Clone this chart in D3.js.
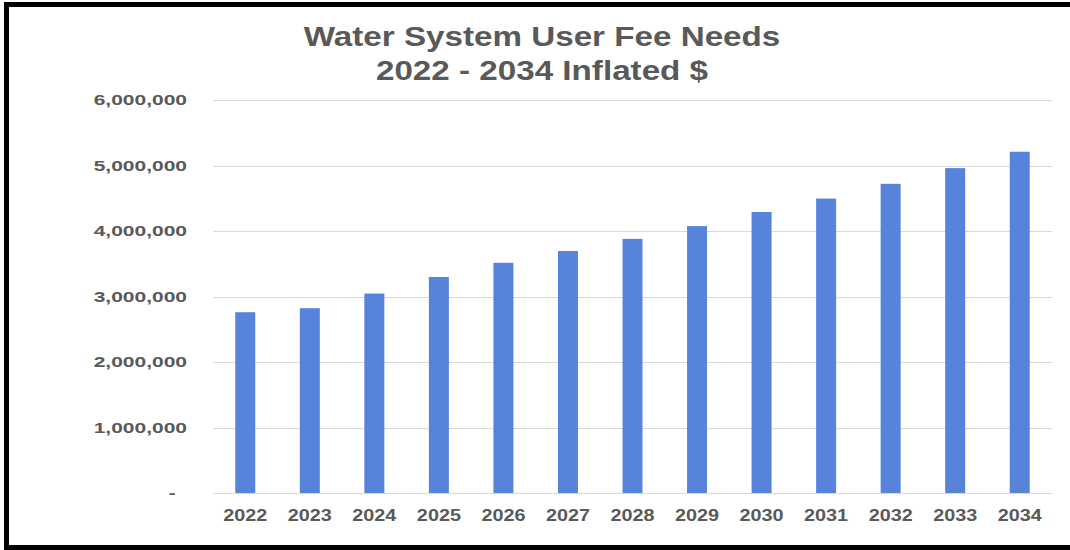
<!DOCTYPE html>
<html>
<head>
<meta charset="utf-8">
<script src="https://cdn.jsdelivr.net/npm/d3@7"></script>
<style>
  html, body { margin: 0; padding: 0; background: #fff; }
  svg { display: block; }
</style>
</head>
<body>
<svg id="chart" width="1070" height="550"></svg>
<script>
// Annual water system user fee needs, inflated dollars
const years = ["2022", "2023", "2024", "2025", "2026", "2027", "2028",
               "2029", "2030", "2031", "2032", "2033", "2034"];
const feeNeeds = [2760000, 2822000, 3045000, 3298000, 3515000, 3695000, 3880000,
                  4075000, 4290000, 4495000, 4720000, 4960000, 5210000];
const yTicks = [0, 1000000, 2000000, 3000000, 4000000, 5000000, 6000000];
const titleLines = ["Water System User Fee Needs", "2022 - 2034 Inflated $"];

const svg = d3.select("#chart");
const textColor = "#595959";
const font = "'Liberation Sans', Arial, sans-serif";

// outer frame
svg.append("rect")
  .attr("x", 6.5).attr("y", 4.5)
  .attr("width", 1100).attr("height", 543)
  .attr("fill", "#fff")
  .attr("stroke", "#000").attr("stroke-width", 5);

const plot = { left: 213, right: 1052, top: 100, bottom: 493 };

const x = d3.scaleBand()
  .domain(years)
  .range([plot.left, plot.right])
  .paddingInner(0.69)
  .paddingOuter(0.345);

const y = d3.scaleLinear()
  .domain([0, 6000000])
  .range([plot.bottom, plot.top]);

// gridlines
svg.append("g")
  .selectAll("line")
  .data(yTicks)
  .join("line")
  .attr("x1", plot.left).attr("x2", plot.right)
  .attr("y1", d => Math.round(y(d)) + 0.5)
  .attr("y2", d => Math.round(y(d)) + 0.5)
  .attr("stroke", "#d9d9d9").attr("stroke-width", 1.2);

// bars
svg.append("g")
  .selectAll("rect")
  .data(years.map((yr, i) => ({ yr, v: feeNeeds[i] })))
  .join("rect")
  .attr("x", d => x(d.yr))
  .attr("width", x.bandwidth())
  .attr("y", d => y(d.v))
  .attr("height", d => y(0) - y(d.v))
  .attr("fill", "#5883db");

// y-axis labels (wide lettering)
const fmt = d3.format(",");
const yAxis = d3.axisLeft(y)
  .tickValues(yTicks)
  .tickSize(0)
  .tickPadding(0)
  .tickFormat(d => d === 0 ? "-" : fmt(d));
const gy = svg.append("g")
  .attr("transform", `translate(187,0)`)
  .call(yAxis);
gy.select(".domain").remove();
gy.selectAll("text")
  .attr("fill", textColor)
  .attr("font-family", font)
  .attr("font-weight", "bold")
  .attr("font-size", 14)
  .attr("dy", "0.35em")
  .attr("dx", d => d === 0 ? -7.5 : 0)
  .attr("transform", "scale(1.5,1)");

// x-axis labels
const xAxis = d3.axisBottom(x).tickSize(0).tickPadding(0);
const gx = svg.append("g")
  .attr("transform", `translate(0,${plot.bottom})`)
  .call(xAxis);
gx.select(".domain").remove();
gx.selectAll("text")
  .attr("fill", textColor)
  .attr("font-family", font)
  .attr("font-weight", "bold")
  .attr("font-size", 16.5)
  .attr("dy", "0")
  .attr("y", 28)
  .attr("transform", "scale(1.2,1)");

// title
svg.append("g")
  .selectAll("text")
  .data(titleLines)
  .join("text")
  .attr("transform", (d, i) => `translate(542,${46 + i * 34}) scale(1.23,1)`)
  .attr("text-anchor", "middle")
  .attr("fill", textColor)
  .attr("font-family", font)
  .attr("font-weight", "bold")
  .attr("font-size", 27)
  .text(d => d);
</script>
</body>
</html>
